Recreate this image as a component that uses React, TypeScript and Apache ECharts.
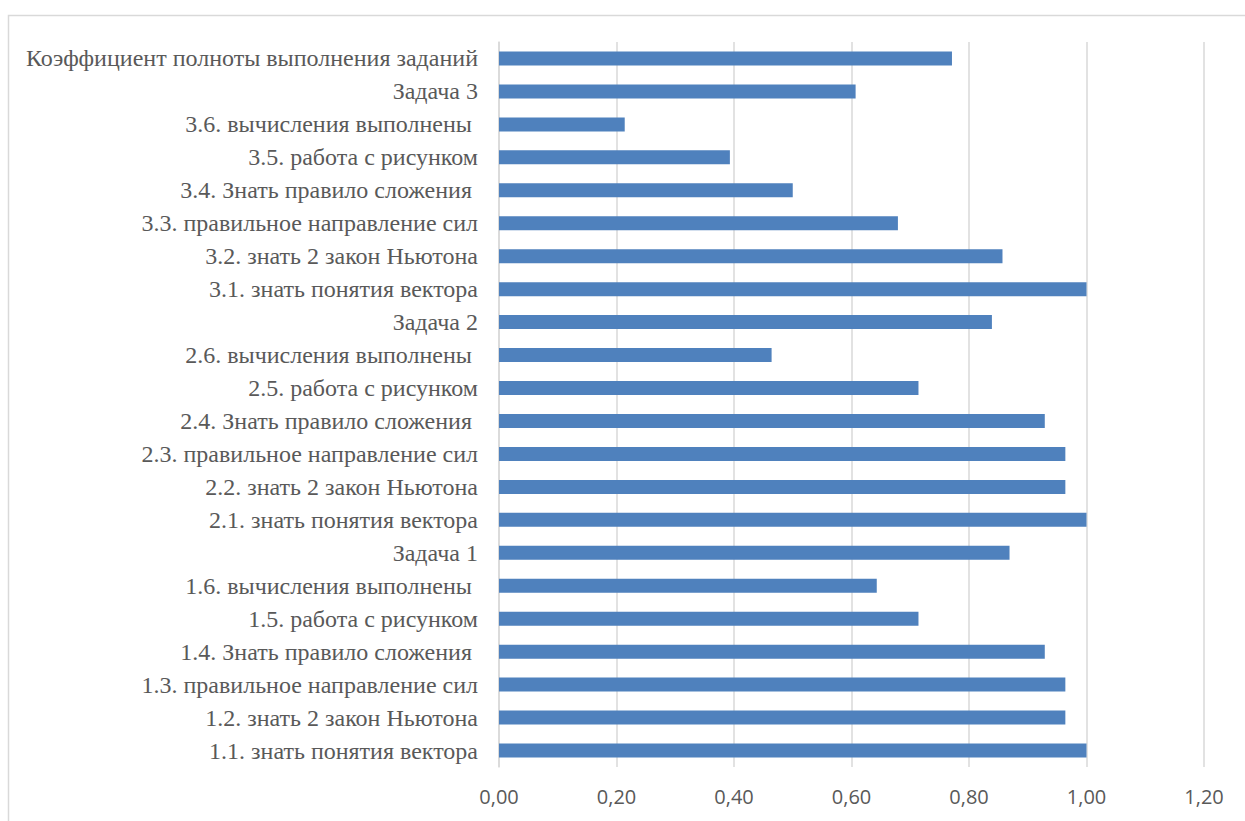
import React, { useEffect, useRef } from "react";
import * as echarts from "echarts";

const categories = [
  "1.1. знать понятия вектора",
  "1.2. знать 2 закон Ньютона",
  "1.3. правильное направление сил",
  "1.4. Знать правило сложения\u00a0",
  "1.5. работа с рисунком",
  "1.6. вычисления выполнены\u00a0",
  "Задача 1",
  "2.1. знать понятия вектора",
  "2.2. знать 2 закон Ньютона",
  "2.3. правильное направление сил",
  "2.4. Знать правило сложения\u00a0",
  "2.5. работа с рисунком",
  "2.6. вычисления выполнены\u00a0",
  "Задача 2",
  "3.1. знать понятия вектора",
  "3.2. знать 2 закон Ньютона",
  "3.3. правильное направление сил",
  "3.4. Знать правило сложения\u00a0",
  "3.5. работа с рисунком",
  "3.6. вычисления выполнены\u00a0",
  "Задача 3",
  "Коэффициент полноты выполнения заданий",
];

const values = [
  1.0, 0.964, 0.964, 0.929, 0.714, 0.643, 0.869,
  1.0, 0.964, 0.964, 0.929, 0.714, 0.464, 0.839,
  1.0, 0.857, 0.679, 0.5, 0.393, 0.214, 0.607,
  0.771,
];

const xMin = 0;
const xMax = 1.2;
const xInterval = 0.2;

export default function App() {
  const ref = useRef<HTMLDivElement>(null);
  useEffect(() => {
    if (!ref.current) return;
    const chart = echarts.init(ref.current, undefined, { renderer: "svg" });
    chart.setOption({
      animation: false,
      backgroundColor: "#ffffff",
      graphic: [
        {
          type: "rect",
          left: 6,
          top: 13,
          shape: { width: 1300, height: 900 },
          style: { fill: "none", stroke: "#d9d9d9", lineWidth: 1.5 },
          silent: true,
          z: -1,
        },
      ],
      grid: { left: 499, right: 41, top: 42, bottom: 54, containLabel: false },
      xAxis: {
        type: "value",
        min: xMin,
        max: xMax,
        interval: xInterval,
        axisLine: { show: false },
        axisTick: { show: false },
        splitLine: { show: true, lineStyle: { color: "#d9d9d9", width: 1.5 } },
        axisLabel: {
          color: "#595959",
          fontFamily: "Open Sans",
          fontSize: 20,
          margin: 19,
          formatter: (v: number) => v.toFixed(2).replace(".", ","),
        },
      },
      yAxis: {
        type: "category",
        data: categories,
        axisLine: { show: true, lineStyle: { color: "#d9d9d9", width: 1.5 } },
        axisTick: { show: false },
        axisLabel: {
          color: "#595959",
          fontFamily: "Times New Roman, Liberation Serif, serif",
          fontSize: 24,
          margin: 21,
        },
      },
      series: [
        {
          type: "bar",
          data: values,
          barWidth: 14,
          itemStyle: { color: "#4f81bd" },
        },
      ],
    });
    return () => chart.dispose();
  }, []);
  return (
    <div
      ref={ref}
      style={{ position: "fixed", left: 0, top: 0, width: 1245, height: 821 }}
    />
  );
}
